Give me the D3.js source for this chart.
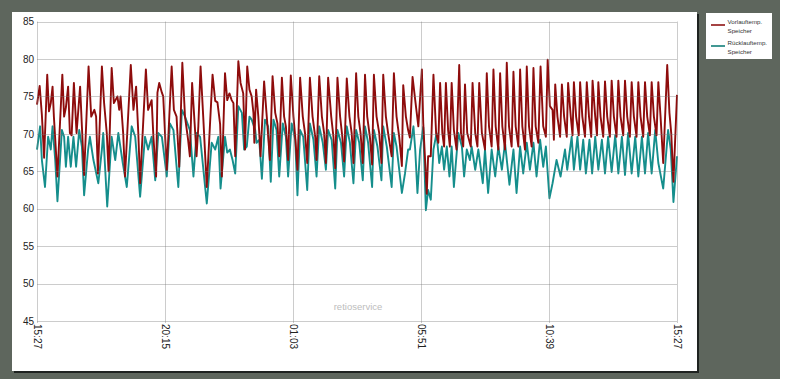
<!DOCTYPE html>
<html>
<head>
<meta charset="utf-8">
<script src="https://d3js.org/d3.v7.min.js"></script>
<style>
  body { margin: 0; background: #fff; }
  svg text { font-family: "Liberation Sans", Arial, sans-serif; }
</style>
</head>
<body>
<div id="chart"></div>
<script>
// series names for the legend
var seriesNames = [["Vorlauftemp.", "Speicher"], ["Rücklauftemp.", "Speicher"]];

// y axis ticks (°C) and x ticks in minutes after 15:27
var yTicks = [45, 50, 55, 60, 65, 70, 75, 80, 85];
var xTickMinutes = [0, 288, 576, 864, 1152, 1440];

// Vorlauftemp. Speicher: [minutes after 15:27, value]
var vorlauf = [
  [0,73.9],[6,76.4],[11,72.5],[16,66.8],[23,77.9],[27,73],[31,74.1],[35,76.3],[38,72.3],[46,64.3],
  [57,77.9],[61,72.3],[65,73.5],[70,76.3],[74,70.1],[78,69.8],[83,76.8],[89,70.1],[97,76.3],[101,71],
  [106,64.5],[116,79],[122,72.3],[129,73.2],[133,72.3],[137,64.7],[146,79],[151,74.1],[157,70.1],[161,65],
  [168,78.8],[173,74.1],[181,75],[185,73.2],[188,75],[194,70],[198,64.3],[211,79.2],[217,73.2],[223,76.3],
  [228,70],[232,63.4],[245,78.6],[250,73.2],[258,74.5],[262,69.5],[268,64.3],[271,75.5],[275,76.8],[281,75.5],
  [284,75],[292,65.2],[303,79],[308,73.2],[314,72.3],[320,65.6],[327,79.5],[333,72.3],[340,69.2],[344,67],
  [349,76.8],[356,70.1],[359,67],[363,71],[368,79],[374,72.3],[382,62.9],[395,77.9],[401,74.4],[406,74.2],
  [412,71.3],[416,64.3],[423,78.1],[428,74.5],[433,75.4],[438,74.5],[442,74.1],[446,67],[453,79.7],[458,76.8],
  [464,75.4],[468,67.9],[473,79],[478,75.9],[483,75],[487,72.8],[489,68.8],[493,75.9],[498,72.3],[503,67],
  [511,77],[517,72.3],[524,66.5],[530,77.7],[536,72.8],[541,71.4],[545,67],[551,77.5],[556,72.3],[560,71],
  [565,66.5],[571,77.8],[577,72.3],[581,69.6],[586,65.2],[592,77.5],[598,72.3],[603,70.1],[608,66.1],[614,77.5],
  [620,72.3],[626,69.6],[629,66.5],[635,77.7],[641,72.3],[646,70.1],[650,66.1],[655,77.5],[662,72.3],[667,69.6],
  [671,65.4],[676,77.5],[682,72.3],[687,69.6],[691,66.3],[697,77.4],[703,72.3],[708,70.1],[712,66.1],[718,78.1],
  [723,72.3],[728,70.1],[733,66.1],[738,77.9],[743,72.3],[749,69.6],[754,65.9],[758,77.9],[764,72.3],[770,70.1],
  [775,66.1],[779,77.9],[785,72.3],[790,70.1],[798,67],[803,78.1],[809,72.3],[815,69.6],[821,65.7],[824,76.5],
  [830,72.3],[835,70.5],[839,69.5],[845,77.6],[851,74.5],[858,71],[866,78.6],[869,71.5],[872,67.9],[877,62],
  [880,67],[886,67],[892,77.9],[898,70.1],[903,68.8],[907,76.8],[912,70.1],[916,68.3],[920,76.8],[925,70.5],
  [929,68.3],[933,76.8],[938,70.5],[944,67.9],[950,79.2],[954,70.1],[959,68.3],[963,76.6],[968,70.1],[976,68.3],
  [980,76.8],[986,70.1],[991,68.3],[995,76.8],[1001,70.1],[1008,67.9],[1012,78.1],[1017,71],[1023,68.3],[1027,78.6],
  [1032,71],[1038,67.9],[1042,78.1],[1047,71],[1053,67.9],[1057,79.5],[1062,71],[1068,68.3],[1072,78.3],[1077,71],
  [1083,68.3],[1087,78.6],[1092,71],[1098,67.9],[1102,79],[1107,71],[1113,68.3],[1117,78.8],[1122,71],[1128,68.8],
  [1133,79],[1139,71],[1145,69.6],[1149,79.9],[1154,73.7],[1160,73.2],[1163,69.2],[1166,76.6],[1171,72.3],[1177,69.6],
  [1181,76.6],[1186,72.3],[1192,69.6],[1195,76.8],[1201,72.3],[1205,69.8],[1208,76.9],[1213,72.3],[1219,69.8],[1222,76.9],
  [1227,72.3],[1233,69.6],[1237,76.9],[1242,72.3],[1247,69.6],[1250,77.1],[1256,72.3],[1260,69.8],[1263,76.9],[1268,72.3],
  [1274,69.6],[1278,77],[1283,72.3],[1289,69.6],[1293,77.1],[1298,72.3],[1304,69.6],[1308,77.1],[1313,72.3],[1319,69.8],
  [1323,77.1],[1328,72.3],[1334,69.6],[1338,76.9],[1343,72.3],[1349,69.6],[1353,76.9],[1358,72.3],[1364,69.6],[1368,76.9],
  [1373,72.3],[1379,69.8],[1383,76.9],[1388,72.3],[1394,69.8],[1398,76.9],[1403,72.3],[1409,66.1],[1418,79.2],[1423,72.8],
  [1427,70.1],[1432,63.6],[1440,75.2]
];

// Rücklauftemp. Speicher: [minutes after 15:27, value]
var ruecklauf = [
  [0,67.9],[7,71],[11,66.5],[18,62.9],[25,69.6],[31,67.9],[35,71],[41,66.5],[46,61],[56,70.5],
  [61,69.6],[65,65.6],[70,69.6],[76,65.6],[82,69.6],[88,65.6],[95,70.5],[101,68.3],[106,61.8],[115,67.9],
  [119,69.6],[127,66.5],[138,63.4],[146,67.9],[149,70.1],[158,60.3],[168,69.6],[176,66.5],[183,70.1],[193,66.1],
  [202,62.9],[213,71],[221,69.6],[232,61.6],[243,69.6],[250,67.9],[258,69.6],[266,63.8],[273,70.1],[281,69.6],
  [292,64.3],[299,71.4],[307,70.5],[318,62.9],[326,73.2],[333,72.3],[344,70.5],[352,64.3],[359,70.1],[367,69.6],
  [382,60.7],[393,68.8],[401,67.9],[408,69.6],[413,62.7],[423,69.6],[428,67.5],[434,67.9],[440,66.5],[446,64.7],
  [453,73.7],[461,72.8],[466,67.9],[472,68.3],[478,72.3],[483,71.9],[491,70.5],[494,68.8],[500,69.2],[506,64],
  [513,71.9],[520,71],[526,63.6],[532,71.9],[539,70.5],[545,64.3],[553,71.4],[560,69.6],[565,64.3],[573,71.4],
  [581,69.2],[586,61.8],[592,70.5],[599,69.6],[608,62.5],[614,71.4],[622,69.2],[629,64.3],[635,71],[643,68.8],
  [650,65.2],[655,70.5],[663,69.2],[671,62.7],[676,70.5],[684,68.8],[691,64.3],[697,71],[704,68.8],[712,63.4],
  [718,70.5],[725,68.8],[733,63.8],[738,71],[745,68.8],[754,62.9],[758,70.5],[766,68.3],[775,63.8],[779,71],
  [787,68.3],[798,62.9],[803,70.1],[809,68.3],[821,62.1],[828,64.7],[835,67.9],[839,67.9],[847,71],[851,67.9],
  [856,62.1],[862,67.9],[869,70.9],[875,59.8],[880,62.5],[886,61.2],[892,67.9],[899,70.1],[905,66.1],[911,68.3],
  [916,65.2],[922,68.3],[928,64.3],[933,68.3],[938,62.9],[948,70.1],[956,68.3],[961,64.3],[967,67.9],[974,66.5],
  [978,68.3],[986,65.2],[993,67.9],[1003,63.4],[1008,67.9],[1015,62.1],[1023,67.9],[1031,64.3],[1038,68.3],[1046,65.2],
  [1053,68.8],[1063,63.2],[1072,67.9],[1079,62.1],[1087,68.3],[1094,64.7],[1102,68.8],[1109,65.2],[1117,68.8],[1124,64.3],
  [1132,69.2],[1139,65.6],[1145,68.3],[1153,61.4],[1160,63.4],[1169,66.5],[1178,64.3],[1188,67.9],[1193,65.2],[1203,69.6],
  [1208,65.2],[1216,69.6],[1222,65.2],[1229,69.2],[1235,64.7],[1243,69.2],[1249,64.7],[1256,69.6],[1263,65.2],[1271,69.2],
  [1278,64.7],[1285,69.6],[1293,64.9],[1301,69.8],[1308,64.7],[1316,69.6],[1323,64.5],[1330,70.1],[1338,64.7],[1346,69.6],
  [1353,64.3],[1361,69.6],[1368,64.7],[1375,70.1],[1383,64.7],[1391,70.5],[1398,66.1],[1409,62.7],[1420,70.5],[1426,67.9],
  [1432,60.9],[1440,67]
];

var W = 796, H = 389;
var svg = d3.select("#chart").append("svg")
  .attr("width", W).attr("height", H);

// dark frame around the chart panel
svg.append("rect").attr("x", 0).attr("y", 0).attr("width", 780).attr("height", 379).attr("fill", "#5e665d");
svg.append("rect").attr("x", 14).attr("y", 14).attr("width", 685).attr("height", 359).attr("fill", "#1e2220");
svg.append("rect").attr("x", 12).attr("y", 12).attr("width", 685).attr("height", 359).attr("fill", "#fff");

var base = new Date(2013, 0, 1, 15, 27);
function toDate(m) { return new Date(base.getTime() + m * 60000); }

var x = d3.scaleTime()
  .domain([toDate(0), toDate(1440)])
  .range([37, 677]);
var y = d3.scaleLinear()
  .domain([45, 85])
  .range([321, 21.5]);

// watermark
svg.append("text")
  .attr("x", 358).attr("y", 310)
  .attr("text-anchor", "middle")
  .attr("font-size", 9.5)
  .attr("fill", "#bdbdbd")
  .text("retioservice");

var line = d3.line()
  .x(function(d) { return x(toDate(d[0])); })
  .y(function(d) { return y(d[1]); });

svg.append("path")
  .datum(ruecklauf)
  .attr("fill", "none")
  .attr("stroke", "#158e8c")
  .attr("stroke-width", 1.9)
  .attr("stroke-linejoin", "round")
  .attr("d", line);

svg.append("path")
  .datum(vorlauf)
  .attr("fill", "none")
  .attr("stroke", "#8e0c0c")
  .attr("stroke-width", 1.9)
  .attr("stroke-linejoin", "round")
  .attr("d", line);

// grid on top of the lines (semi transparent)
var grid = svg.append("g").attr("stroke", "#7a7a7a").attr("stroke-opacity", 0.38).attr("stroke-width", 1);
grid.selectAll("line.h").data(yTicks).enter().append("line")
  .attr("x1", 37).attr("x2", 677)
  .attr("y1", function(d) { return Math.round(y(d)) + 0.5; })
  .attr("y2", function(d) { return Math.round(y(d)) + 0.5; });
grid.selectAll("line.v").data(xTickMinutes).enter().append("line")
  .attr("x1", function(d) { return Math.round(x(toDate(d))) + 0.5; })
  .attr("x2", function(d) { return Math.round(x(toDate(d))) + 0.5; })
  .attr("y1", 21.5).attr("y2", 323);

// y axis labels
var yAxis = svg.append("g")
  .attr("transform", "translate(37,0)")
  .call(d3.axisLeft(y).tickValues(yTicks).tickSize(0).tickPadding(3));
yAxis.select(".domain").remove();
yAxis.selectAll("text").attr("font-size", 10).attr("fill", "#222").attr("font-family", "Liberation Sans, Arial, sans-serif");

// x axis labels, rotated
var xAxis = svg.append("g")
  .attr("transform", "translate(0,321)")
  .call(d3.axisBottom(x)
    .tickValues(xTickMinutes.map(toDate))
    .tickFormat(d3.timeFormat("%H:%M"))
    .tickSize(0));
xAxis.select(".domain").remove();
xAxis.selectAll("text")
  .attr("transform", "rotate(90)")
  .attr("text-anchor", "start")
  .attr("x", 3).attr("y", 0).attr("dy", "0.35em")
  .attr("font-size", 10).attr("fill", "#222")
  .attr("font-family", "Liberation Sans, Arial, sans-serif");

// legend
var legend = svg.append("g");
legend.append("rect").attr("x", 706).attr("y", 13).attr("width", 66).attr("height", 46).attr("fill", "#fff");
var legendColors = ["#8e1414", "#127e78"];
seriesNames.forEach(function(name, i) {
  var ly = 25 + i * 21;
  legend.append("line")
    .attr("x1", 711).attr("x2", 725)
    .attr("y1", ly).attr("y2", ly)
    .attr("stroke", legendColors[i]).attr("stroke-width", 1.6);
  name.forEach(function(t, j) {
    legend.append("text")
      .attr("x", 727.5).attr("y", ly - 1 + j * 9)
      .attr("font-size", 6.2).attr("fill", "#333")
      .text(t);
  });
});
</script>
</body>
</html>
